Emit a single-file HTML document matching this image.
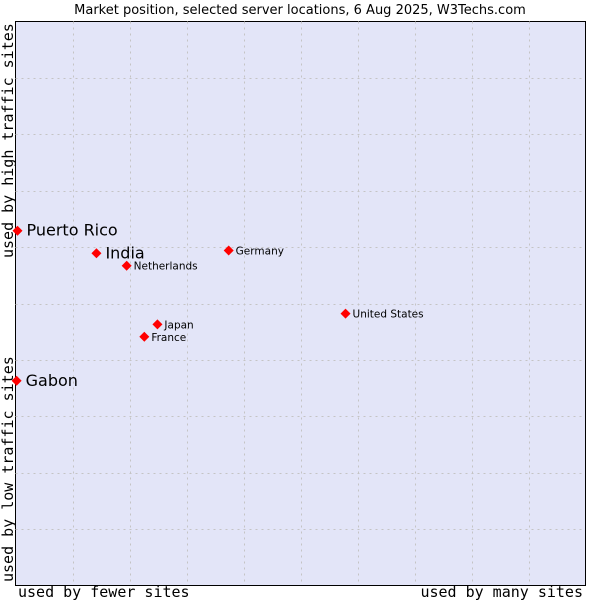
<!DOCTYPE html>
<html><head><meta charset="utf-8"><style>
html,body{margin:0;padding:0;background:#fff;width:600px;height:600px;overflow:hidden}
svg text{font-family:"DejaVu Sans","Liberation Sans",sans-serif}
.mono{font-family:"DejaVu Sans Mono","Liberation Mono",monospace}
</style></head><body>
<svg id="chart" width="600" height="600">
<text x="300" y="14" text-anchor="middle" font-size="13" fill="#000">Market position, selected server locations, 6 Aug 2025, W3Techs.com</text>
<rect x="15.5" y="21.5" width="570" height="564" fill="#e3e5f8" stroke="#000" stroke-width="1"/>
<g id="grid"></g>
<g id="points"></g>
<text class="mono" x="18" y="597" font-size="15">used by fewer sites</text>
<text class="mono" x="583" y="597" font-size="15" text-anchor="end">used by many sites</text>
<text class="mono" transform="translate(13,582) rotate(-90)" font-size="15">used by low traffic sites</text>
<text class="mono" transform="translate(13,258) rotate(-90)" font-size="15">used by high traffic sites</text>
</svg>
<script>
const names=["Puerto Rico","India","Netherlands","Germany","United States","Japan","France","Gabon"];
const xVals=[0.35,14.2,19.5,37.4,57.9,24.9,22.6,0.2];
const yVals=[62.9,58.9,56.7,59.4,48.2,46.3,44.1,36.3];
const bigLabel=[true,true,false,false,false,false,false,true];
const L=15.5,R=585.5,T=21.5,B=585.5;
const sx=v=>L+(R-L)*v/100, sy=v=>B-(B-T)*v/100;
const NS="http://www.w3.org/2000/svg";
const grid=document.getElementById('grid');
for(let i=1;i<10;i++){
 const l=document.createElementNS(NS,'line');
 
 
 const x=Math.round(sx(i*10))+0.5;
 l.setAttribute('x1',x);l.setAttribute('x2',x);l.setAttribute('y1',T);l.setAttribute('y2',B);
 l.setAttribute('stroke','#c4c4c4');l.setAttribute('stroke-dasharray','2,4');
 grid.appendChild(l);
 const h=document.createElementNS(NS,'line');
 
 
 const y=Math.round(sy(i*10))+0.5;
 h.setAttribute('y1',y);h.setAttribute('y2',y);h.setAttribute('x1',L);h.setAttribute('x2',R);
 h.setAttribute('stroke','#c4c4c4');h.setAttribute('stroke-dasharray','2,4');
 grid.appendChild(h);
}
const pts=document.getElementById('points');
names.forEach((n,i)=>{
 const x=sx(xVals[i]),y=sy(yVals[i]);
 const d=document.createElementNS(NS,'path');
 
 
 d.setAttribute('d',`M${x} ${y-5}L${x+5} ${y}L${x} ${y+5}L${x-5} ${y}Z`);
 d.setAttribute('fill','#f00');
 pts.appendChild(d);
 const t=document.createElementNS(NS,'text');
 
 
 const big=bigLabel[i];
 t.setAttribute('x',x+(big?9:7));
 t.setAttribute('y',y+(big?5:4));
 t.setAttribute('font-size',big?16:10.5);
 t.textContent=n;
 pts.appendChild(t);
});
</script>
</body></html>
